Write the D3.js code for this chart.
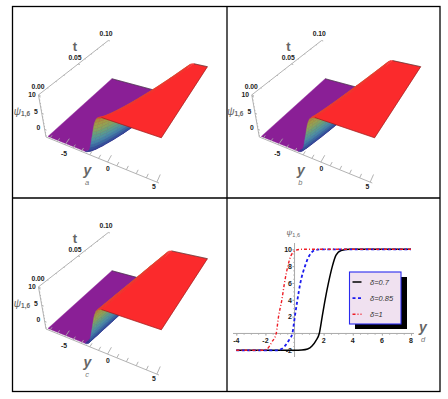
<!DOCTYPE html>
<html>
<head>
<meta charset="utf-8">
<script src="https://cdn.jsdelivr.net/npm/d3@7"></script>
<style>
  body { margin: 0; background: #fff; }
  svg { opacity: 0.999; }
  text { font-family: "Liberation Sans", Arial, sans-serif; }
</style>
</head>
<body>
<svg width="448" height="399"></svg>
<script>
// Wave surface: time rows, how far the front has moved at each row, and the profile across it
const tRows = [0, 0.002, 0.005, 0.01, 0.02, 0.03, 0.05, 0.07, 0.1];
const shiftA = [0, 0.26, 0.5, 0.81, 1.31, 1.74, 2.49, 3.15, 4.04];
const shiftB = [0, 0.08, 0.19, 0.33, 0.6, 0.84, 1.29, 1.72, 2.33];
const shiftC = [0, 0.03, 0.07, 0.14, 0.28, 0.42, 0.7, 0.98, 1.4];
const psiLevels = [-2, -1.9, -1.6, -1, 0, 1, 2, 3, 4, 5, 6, 7, 8, 9, 9.6, 9.9, 10];
const frontY = [-2.55, -2.35, -2.15, -2.0, -1.88, -1.78, -1.69, -1.6, -1.5, -1.42, -1.33, -1.24, -1.12, -0.95, -0.77, -0.55, -0.35];
const yStart = -7.2, yEnd = 5.2;

// Side plot curves
const curveBlack = [[-4, -2], [-1, -2], [0, -2], [0.5, -1.97], [0.9, -1.85], [1.2, -1.5], [1.45, -0.9], [1.7, 0], [1.9, 2], [2.1, 4], [2.33, 6], [2.6, 8], [2.85, 9.3], [3.2, 9.85], [3.8, 10], [8, 10]];
const curveBlue = [[-4, -2], [-1.2, -2], [-0.9, -1.85], [-0.6, -1.35], [-0.35, -0.7], [-0.15, 0], [0.02, 2], [0.2, 4], [0.4, 6], [0.72, 8], [1, 9.2], [1.4, 9.9], [1.8, 10], [8, 10]];
const curveRed = [[-4, -2], [-2.2, -2], [-1.9, -1.85], [-1.55, -1], [-1.26, 0], [-1.1, 2], [-0.87, 4], [-0.69, 6], [-0.46, 8], [-0.2, 9.4], [0.2, 9.95], [0.6, 10], [8, 10]];
const legendLabels = ["δ=0.7", "δ=0.85", "δ=1"];
const xTickLabels = [-4, -2, 2, 4, 6, 8];
const yTickLabels = [-2, 2, 4, 6, 8, 10];

const svg = d3.select("svg");

// Frame around the four panels
svg.append("rect").attr("x", 12.5).attr("y", 6.5).attr("width", 427.5).attr("height", 385)
    .attr("fill", "none").attr("stroke", "#000").attr("stroke-width", 1.3);
svg.append("line").attr("x1", 227).attr("x2", 227).attr("y1", 6.5).attr("y2", 391.5)
    .attr("stroke", "#000").attr("stroke-width", 1.3);
svg.append("line").attr("x1", 12.5).attr("x2", 440).attr("y1", 198).attr("y2", 198)
    .attr("stroke", "#000").attr("stroke-width", 1.3);

// Box coordinates, 0..1 along each axis
const uScale = d3.scaleLinear().domain([-7.5, 5.2]).range([0, 1]);
const vScale = d3.scaleLinear().domain([0, 0.1]).range([0, 1]);
const wScale = d3.scaleLinear().domain([-2.5, 10.8]).range([0, 1]);

// Perspective view of the box
const O = [46, 137], U = [159, 183], V = [110, 79.5], W = [38.2, 93.5];
const ka = 0.83, kb = 1.3, kc = 0.92;
function project(y, t, psi) {
    const u = uScale(y), v = vScale(t), w = wScale(psi);
    const d = 1 + (ka - 1) * u + (kb - 1) * v + (kc - 1) * w;
    return [0, 1].map(i => (O[i]
        + u * (ka * U[i] - O[i])
        + v * (kb * V[i] - O[i])
        + w * (kc * W[i] - O[i])) / d);
}

const surfaceColor = d3.scaleLinear()
    .domain([-2, 0, 2, 4, 6, 8, 9, 9.5, 9.8, 10])
    .range(["#33288c", "#35609f", "#4a8ea8", "#5f9f85", "#8fa455", "#a89640", "#a9803a", "#c85a34", "#ee3430", "#fb2a2c"]);
const line = d3.line();

function drawPanel(dx, dy, shift, letter) {
    const g = svg.append("g").attr("transform", `translate(${dx},${dy})`);
    const last = tRows.length - 1;
    const topLevel = psiLevels.length - 1;
    const front = k => i => frontY[k] + shift[i];

    const poly = (pts, color) => g.append("path").attr("d", line(pts) + "Z")
        .attr("fill", color).attr("stroke", color).attr("stroke-width", 0.4);
    const edge = (pts, color) => g.append("path").attr("d", line(pts))
        .attr("fill", "none").attr("stroke", color).attr("stroke-width", 0.6);

    // low plane, its far side follows the foot of the wave
    poly([project(yStart, 0, -2)]
        .concat(tRows.map((t, i) => project(front(0)(i), t, -2)))
        .concat([project(yStart, 0.1, -2)]), "#8a1f96");
    edge([project(yStart, 0.1, -2), project(front(0)(last), 0.1, -2)], "#333");

    // rising face, low levels first and far rows first
    d3.range(topLevel).forEach(k => {
        const c = surfaceColor((psiLevels[k] + psiLevels[k + 1]) / 2);
        d3.range(last - 1, -1, -1).forEach(i => poly([
            project(front(k)(i), tRows[i], psiLevels[k]),
            project(front(k + 1)(i), tRows[i], psiLevels[k + 1]),
            project(front(k + 1)(i + 1), tRows[i + 1], psiLevels[k + 1]),
            project(front(k)(i + 1), tRows[i + 1], psiLevels[k])
        ], c));
    });

    // high plane
    poly(tRows.map((t, i) => project(front(topLevel)(i), t, 10))
        .concat([project(yEnd, 0.1, 10), project(yEnd, 0, 10)]), "#fb2a2c");
    edge([project(front(topLevel)(last), 0.1, 10), project(yEnd, 0.1, 10)], "#333");
    edge([project(yEnd, 0.1, 10), project(yEnd, 0, 10), project(front(topLevel)(0), 0, 10)], "#8a1a1a");

    // box axes
    const axisLine = (a, b) => g.append("path").attr("d", line([a, b]))
        .attr("fill", "none").attr("stroke", "#aaa").attr("stroke-width", 0.9);
    const tAxisPsi = t => 10.4 + 12 * t;
    axisLine(project(-7.5, 0, -2.5), project(5.2, 0, -2.5));
    axisLine(project(-7.5, 0, -2.5), project(-7.5, 0, 10.4));
    axisLine(project(-7.5, 0, tAxisPsi(0)), project(-7.5, 0.1, tAxisPsi(0.1)));

    d3.range(-7, 5.1, 1).forEach(y => {
        const l = y % 5 === 0 ? 0.28 : 0.15;
        axisLine(project(y, 0, -2.5), project(y, l * 0.02, -2.5 + l * 2));
    });
    d3.range(0, 0.1001, 0.01).forEach((t, i) => {
        const l = i % 5 === 0 ? 0.25 : 0.12;
        axisLine(project(-7.5, t, tAxisPsi(t)), project(-7.5 + l, t, tAxisPsi(t)));
    });
    d3.range(-2, 10.1, 1).forEach(p => {
        const l = p % 5 === 0 ? 0.25 : 0.12;
        axisLine(project(-7.5, 0, p), project(-7.5 + l, 0, p));
    });

    const label = (x, y, s, size, opts = {}) => g.append("text")
        .attr("x", x).attr("y", y).attr("text-anchor", "middle").attr("dominant-baseline", "middle")
        .attr("font-size", size).attr("font-weight", opts.weight || "bold")
        .attr("font-style", opts.style || "normal").attr("fill", opts.fill || "#222").text(s);

    label(106, 34, "0.10", 6.8);
    label(75, 58.5, "0.05", 6.8);
    label(38, 87.5, "0.00", 6.8);
    label(32, 95.5, "10", 6.8);
    label(36, 112, "5", 6.8);
    label(38.5, 128, "0", 6.8);
    label(64, 154, "-5", 6.8);
    label(108, 169, "0", 6.8);
    label(154, 187, "5", 6.8);
    label(75, 48, "t", 13, { fill: "#666" });
    label(87.5, 171, "y", 14, { fill: "#666", style: "italic" });
    label(87, 183, letter, 7.5, { fill: "#777", style: "italic", weight: "normal" });

    const psiText = label(22, 112, "ψ", 10, { fill: "#666", style: "italic", weight: "normal" });
    psiText.append("tspan").attr("font-size", 6.5).attr("dy", 2).attr("font-style", "normal").attr("font-weight", "bold").text("1,6");
}

drawPanel(0, 0, shiftA, "a");
drawPanel(213.3, 0, shiftB, "b");
drawPanel(0, 192, shiftC, "c");

// Panel d: profiles for three values of delta
const x = d3.scaleLinear().domain([-4, 8]).range([236.3, 411]);
const y = d3.scaleLinear().domain([-2, 10]).range([350.3, 249.3]);
const plot = svg.append("g");

const minorX = d3.axisBottom(x).tickValues(d3.range(-4, 8.1, 0.5)).tickSize(1.5).tickFormat("");
const majorX = d3.axisBottom(x).tickValues(xTickLabels).tickSize(2.5).tickFormat("");
const minorY = d3.axisLeft(y).tickValues(d3.range(-2, 10.1, 0.5)).tickSize(1.5).tickFormat("");
const majorY = d3.axisLeft(y).tickValues(yTickLabels).tickSize(2.5).tickFormat("");

[minorX, majorX].forEach(a => plot.append("g").attr("transform", `translate(0,${y(0)})`).call(a));
[minorY, majorY].forEach(a => plot.append("g").attr("transform", `translate(${x(0)},0)`).call(a));
plot.selectAll(".domain").remove();
plot.selectAll(".tick line").attr("stroke", "#999").attr("stroke-width", 0.6);

plot.append("line").attr("x1", 233).attr("x2", 414).attr("y1", y(0)).attr("y2", y(0))
    .attr("stroke", "#aaa").attr("stroke-width", 1);
plot.append("line").attr("x1", x(0)).attr("x2", x(0)).attr("y1", 243).attr("y2", 357)
    .attr("stroke", "#aaa").attr("stroke-width", 1);

plot.selectAll(".x-label").data(xTickLabels).join("text")
    .attr("x", d => x(d)).attr("y", 343).attr("text-anchor", "middle")
    .attr("font-size", 7).attr("font-weight", "bold").attr("fill", "#222").text(d => d);
plot.selectAll(".y-label").data(yTickLabels).join("text")
    .attr("x", 292).attr("y", d => y(d) + 2.7).attr("text-anchor", "end")
    .attr("font-size", 7).attr("font-weight", "bold").attr("fill", "#222").text(d => d);

const profile = d3.line().x(d => x(d[0])).y(d => y(d[1])).curve(d3.curveMonotoneX);
const styles = [
    { data: curveBlack, color: "#000", width: 1.5, dash: null },
    { data: curveBlue, color: "#1a1aee", width: 1.8, dash: "3,2.5" },
    { data: curveRed, color: "#ee1c25", width: 1.4, dash: "3,2,1,2" }
];
styles.forEach(s => plot.append("path").attr("d", profile(s.data))
    .attr("fill", "none").attr("stroke", s.color).attr("stroke-width", s.width)
    .attr("stroke-dasharray", s.dash));

plot.append("text").attr("x", 423).attr("y", 332).attr("text-anchor", "middle")
    .attr("font-size", 14).attr("font-weight", "bold").attr("font-style", "italic").attr("fill", "#666").text("y");
plot.append("text").attr("x", 423).attr("y", 342).attr("text-anchor", "middle")
    .attr("font-size", 7.5).attr("font-style", "italic").attr("fill", "#777").text("d");
const psiD = plot.append("text").attr("x", 286.5).attr("y", 235)
    .attr("font-size", 8).attr("font-style", "italic").attr("fill", "#666").text("ψ");
psiD.append("tspan").attr("font-size", 5.5).attr("dy", 1.5).attr("font-style", "normal").text("1,6");

// Legend with its drop shadow
const legend = svg.append("g");
legend.append("rect").attr("x", 355).attr("y", 277).attr("width", 52).attr("height", 52).attr("fill", "#000");
legend.append("rect").attr("x", 349.5).attr("y", 272).attr("width", 51.5).attr("height", 52)
    .attr("fill", "#f0e1f0").attr("stroke", "#2a2aee").attr("stroke-width", 1.1);
const legendY = d3.scalePoint().domain(legendLabels).range([282, 314.3]);
styles.forEach((s, i) => {
    const yy = legendY(legendLabels[i]);
    legend.append("line").attr("x1", 352.5).attr("x2", 361.5).attr("y1", yy).attr("y2", yy)
        .attr("stroke", s.color).attr("stroke-width", s.width).attr("stroke-dasharray", s.dash);
    legend.append("text").attr("x", 370).attr("y", yy + 2.6)
        .attr("font-size", 7.5).attr("fill", "#333").attr("font-style", "italic").text(legendLabels[i]);
});
</script>
</body>
</html>
